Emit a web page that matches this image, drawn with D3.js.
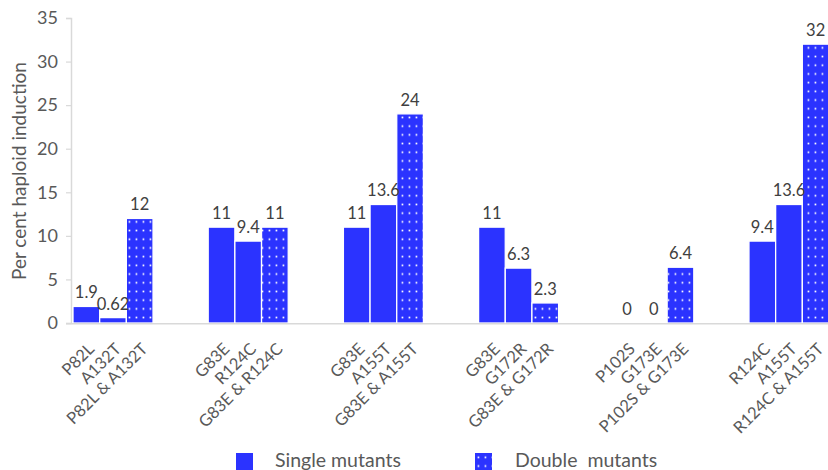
<!DOCTYPE html>
<html>
<head>
<meta charset="utf-8">
<script src="https://cdn.jsdelivr.net/npm/d3@7"></script>
<style>
  html, body { margin: 0; padding: 0; background: #fff; }
  svg { display: block; font-family: Lato, "Noto Sans", sans-serif; }
</style>
</head>
<body>
<svg id="chart" width="828" height="470"></svg>
<script>
// ---- data ----
const groupNames = ["G1", "G2", "G3", "G4", "G5", "G6"];
const labelFirst = ["P82L", "G83E", "G83E", "G83E", "P102S", "R124C"];
const labelSecond = ["A132T", "R124C", "A155T", "G172R", "G173E", "A155T"];
const labelDouble = ["P82L & A132T", "G83E & R124C", "G83E & A155T", "G83E & G172R", "P102S & G173E", "R124C & A155T"];
const singleFirst = [1.9, 11, 11, 11, 0, 9.4];
const singleSecond = [0.62, 9.4, 13.6, 6.3, 0, 13.6];
const doubleValues = [12, 11, 24, 2.3, 6.4, 32];
const yTicks = [0, 5, 10, 15, 20, 25, 30, 35];
const legendLabels = ["Single mutants", "Double mutants"];

const BLUE = "#2b33ff";
const svg = d3.select("#chart");

// pattern for double mutants
const defs = svg.append("defs");
const pat = defs.append("pattern")
  .attr("id", "dots").attr("patternUnits", "userSpaceOnUse")
  .attr("width", 7).attr("height", 8.7);
pat.append("rect").attr("width", 7).attr("height", 8.7).attr("fill", BLUE);
pat.append("rect").attr("x", 2.6).attr("y", 3.5).attr("width", 1.7).attr("height", 1.7).attr("fill", "#fff");

const y = d3.scaleLinear().domain([0, 35]).range([323, 18]);
const x0 = d3.scaleBand().domain(groupNames).range([73, 829]).paddingInner(0.408).paddingOuter(0).align(0);
const kinds = ["a", "b", "d"];
const x1 = d3.scaleBand().domain(kinds).range([0, x0.bandwidth()]).padding(0);

const rows = [];
groupNames.forEach((g, i) => {
  rows.push({g, k: "a", v: singleFirst[i], label: labelFirst[i]});
  rows.push({g, k: "b", v: singleSecond[i], label: labelSecond[i]});
  rows.push({g, k: "d", v: doubleValues[i], label: labelDouble[i]});
});

// y axis
const yAxis = svg.append("g").attr("transform", "translate(71,0)")
  .call(d3.axisLeft(y).tickValues(yTicks).tickSize(5).tickPadding(8));
yAxis.select(".domain").attr("stroke", "#d9d9d9").attr("stroke-width", 1.5);
yAxis.selectAll(".tick line").attr("stroke", "#d9d9d9").attr("stroke-width", 1.2);
yAxis.selectAll(".tick text").attr("fill", "#595959").style("font-size", "18px").style("font-family", "Lato, sans-serif");

// bars
svg.append("g").selectAll("rect").data(rows).join("rect")
  .attr("x", d => x0(d.g) + x1(d.k))
  .attr("y", d => y(d.v))
  .attr("width", x1.bandwidth())
  .attr("height", d => y(0) - y(d.v))
  .attr("fill", d => d.k === "d" ? "url(#dots)" : BLUE)
  .attr("stroke", "#fff").attr("stroke-width", 1.3);

// x baseline
svg.append("line").attr("x1", 66).attr("x2", 828).attr("y1", y(0) + 0.8).attr("y2", y(0) + 0.8)
  .attr("stroke", "#d9d9d9").attr("stroke-width", 1.5);

// value labels
svg.append("g").selectAll("text").data(rows).join("text")
  .attr("x", d => x0(d.g) + x1(d.k) + x1.bandwidth() / 2)
  .attr("y", d => y(d.v) - 8)
  .attr("text-anchor", "middle")
  .attr("fill", "#404040").style("font-size", "16.5px")
  .text(d => String(d.v));

// x labels
svg.append("g").selectAll("text").data(rows).join("text")
  .attr("transform", d => `translate(${x0(d.g) + x1(d.k) + x1.bandwidth() / 2 + 9},${y(0) + 27}) rotate(-45)`)
  .attr("text-anchor", "end")
  .attr("fill", "#595959").style("font-size", "16.5px")
  .text(d => d.label);

// y title
svg.append("text")
  .attr("transform", "translate(26,171) rotate(-90)")
  .attr("text-anchor", "middle")
  .attr("fill", "#595959").style("font-size", "19px")
  .text("Per cent haploid induction");

// legend
const legX = [236, 475];
const leg = svg.append("g").selectAll("g").data(legendLabels).join("g")
  .attr("transform", (d, i) => `translate(${legX[i]},453)`);
leg.append("rect").attr("width", 17).attr("height", 17)
  .attr("fill", (d, i) => i === 0 ? BLUE : "url(#dots)");
leg.append("text").attr("x", (d, i) => i === 0 ? 39 : 40).attr("y", 14)
  .attr("fill", "#595959").style("font-size", "19.5px")
  .style("word-spacing", (d, i) => i === 1 ? "5px" : "0px")
  .text(d => d);
</script>
</body>
</html>
